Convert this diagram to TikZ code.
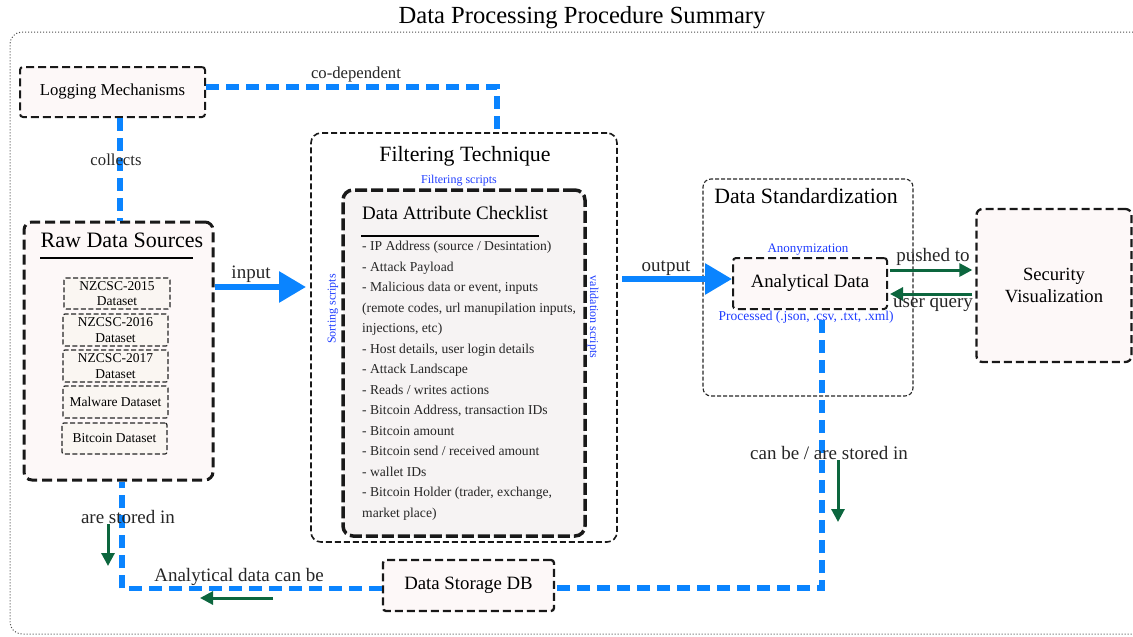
\documentclass[tikz,border=0pt]{standalone}
\usepackage{fontspec}
\setmainfont{Liberation Serif}
\usetikzlibrary{arrows.meta}

\definecolor{flowblue}{RGB}{10,132,255}
\definecolor{notegreen}{RGB}{12,102,62}
\definecolor{scriptblue}{RGB}{30,60,255}
\definecolor{pinkfill}{RGB}{253,248,248}
\definecolor{beigefill}{RGB}{250,246,242}
\definecolor{greyfill}{RGB}{246,243,243}

\newcommand{\fs}[1]{\fontsize{#1}{1.15\dimexpr#1pt\relax}\selectfont}

\tikzset{
  box/.style={draw=black!90, dashed, fill=pinkfill, line width=2pt,
    dash pattern=on 8pt off 4pt, rounded corners=3pt, align=center,
    inner sep=0pt},
  bigbox/.style={draw=black!90, line width=3pt, dash pattern=on 10pt off 5pt,
    rounded corners=8pt, inner sep=0pt},
  groupbox/.style={draw=black!90, line width=1.6pt, dash pattern=on 6pt off 3pt,
    rounded corners=10pt, inner sep=0pt},
  thinbox/.style={draw=black!85, line width=1.1pt, dash pattern=on 4pt off 2pt,
    rounded corners=8pt, inner sep=0pt},
  setbox/.style={draw=black!85, fill=beigefill, line width=1.2pt,
    dash pattern=on 5pt off 2.5pt, rounded corners=2pt, align=center,
    inner sep=0pt, font=\fs{13.5}},
  flowline/.style={draw=flowblue, line width=5.5pt, dash pattern=on 13pt off 7pt},
  bigarrow/.style={draw=flowblue, line width=6pt,
    -{Triangle[length=27pt,width=30pt]}},
  notearrow/.style={draw=notegreen, line width=3pt,
    -{Triangle[length=13pt,width=13pt]}},
  lbl/.style={text=black!85, font=\fs{19}, inner sep=0pt},
  scriptlbl/.style={text=scriptblue, font=\fs{12}, inner sep=0pt},
  heading/.style={font=\fs{21.8}, inner sep=0pt},
}

\begin{document}
\begin{tikzpicture}[x=1pt,y=-1pt]
\useasboundingbox (0,0) rectangle (1133,637);

% overall frame and title
\draw[black!70, line width=1pt, dotted, rounded corners=12pt]
  (1160,32) -- (10,32) -- (10,634) -- (1160,634);
\node[font=\fs{24.6}, inner sep=0pt] (title) at (582,18) {Data Processing Procedure Summary};

% containers
\node[groupbox, minimum width=306pt, minimum height=409pt] (filter) at (464,337.5) {};
\node[heading] (filterttl) at (465,156) {Filtering Technique};
\node[thinbox, minimum width=210pt, minimum height=217pt] (stand) at (808,287.5) {};
\node[heading] (standttl) at (806,196) {Data Standardization};

% raw data sources
\node[bigbox, fill=pinkfill, minimum width=189pt, minimum height=258pt] (raw) at (118.5,351) {};
\node[font=\fs{22}, inner sep=0pt] (rawttl) at (122,240) {Raw Data Sources};
\draw[line width=1.3pt] (40,258) coordinate (rawl) -- (193,258) coordinate (rawr);
\node[setbox, minimum width=106pt, minimum height=31pt, font=\fontsize{13.5}{15.5}\selectfont] (d15) at (117,293.5) {NZCSC-2015\\Dataset};
\node[setbox, minimum width=105pt, minimum height=32pt, font=\fontsize{13.5}{15.5}\selectfont] (d16) at (115.5,330) {NZCSC-2016\\Dataset};
\node[setbox, minimum width=105pt, minimum height=32pt, font=\fontsize{13.5}{15.5}\selectfont] (d17) at (115.5,366) {NZCSC-2017\\Dataset};
\node[setbox, minimum width=105pt, minimum height=32pt] (mal) at (115.5,402) {Malware Dataset};
\node[setbox, minimum width=105pt, minimum height=31pt] (btc) at (114.5,438.5) {Bitcoin Dataset};

% checklist
\node[bigbox, fill=greyfill, line width=3.5pt, dash pattern=on 12pt off 4pt,
      rounded corners=10pt, minimum width=242pt, minimum height=346pt] (check) at (464,363) {};
\node[font=\fs{19}, inner sep=0pt] (checkttl) at (455,213) {Data Attribute Checklist};
\draw[line width=1.3pt] (361,236) coordinate (chkl) -- (539,236) coordinate (chkr);
\node[anchor=north west, align=left, inner sep=0pt, text=black!85,
      font=\fontsize{13.6}{20.5}\selectfont] (items) at (362,241) {%
- IP Address (source / Desintation)\\
- Attack Payload\\
- Malicious data or event, inputs\\
(remote codes, url manupilation inputs,\\
injections, etc)\\
- Host details, user login details\\
- Attack Landscape\\
- Reads / writes actions\\
- Bitcoin Address, transaction IDs\\
- Bitcoin amount\\
- Bitcoin send / received amount\\
- wallet IDs\\
- Bitcoin Holder (trader, exchange,\\
market place)};

% other boxes
\node[box, minimum width=185pt, minimum height=50pt, font=\fs{16.7}] (logging) at (112.5,92) {Logging Mechanisms};
\node[box, minimum width=154pt, minimum height=51pt, font=\fs{18.8}] (anal) at (810,283.5) {Analytical Data};
\node[box, line width=2.3pt, rounded corners=6pt, minimum width=155pt, minimum height=153pt,
      font=\fontsize{18.6}{22}\selectfont] (secvis) at (1054,285.5) {Security\\Visualization};
\node[box, line width=2.3pt, minimum width=171pt, minimum height=51pt, font=\fs{18.8}] (store) at (468.5,585.5) {Data Storage DB};

% blue data-flow lines
\draw[flowline] ([yshift=5pt]logging.east) -| ([xshift=33pt]filter.north);
\draw[flowline] ([xshift=7.5pt]logging.south) -- ([xshift=7.5pt]logging.south |- raw.north);
\draw[flowline] ([xshift=12pt,yshift=-10pt]anal.south) |- ([yshift=-2.5pt]store.east);
\draw[flowline] ([yshift=-3pt]store.west) -| ([xshift=3.5pt]raw.south);

\coordinate (inEnd) at (306,287);
\coordinate (outStart) at (622,279);
\draw[bigarrow] (raw.east |- inEnd) -- (inEnd);
\draw[bigarrow] (outStart) -- (anal.west |- outStart);

% green arrows
\coordinate (pushY) at (0,270);
\coordinate (queryY) at (0,294);
\draw[notearrow] ([xshift=2pt]anal.east |- pushY) -- ([xshift=-3pt]secvis.west |- pushY);
\draw[notearrow] ([xshift=-3pt]secvis.west |- queryY) -- ([xshift=2pt]anal.east |- queryY);
\coordinate (sA1) at (108,524);
\coordinate (sA2) at (108,566);
\draw[notearrow] (sA1) -- (sA2);
\coordinate (sB1) at (273,598);
\coordinate (sB2) at (200,598);
\draw[notearrow] (sB1) -- (sB2);
\coordinate (sC1) at (838,460);
\coordinate (sC2) at (838,522);
\draw[notearrow] (sC1) -- (sC2);

% labels
\node[lbl, font=\fs{16.7}] (codep) at (356,74) {co-dependent};
\node[lbl, font=\fs{16.7}] (collects) at (116,160) {collects};
\node[lbl] (inputlbl) at (251,274) {input};
\node[lbl] (outputlbl) at (666,268) {output};
\node[lbl] (pushlbl) at (933,257) {pushed to};
\node[lbl] (querylbl) at (933,305) {user query};
\node[lbl] (storedlbl) at (128,517) {are stored in};
\node[lbl] (analcan) at (239,577) {Analytical data can be};
\node[lbl] (canbe) at (829,453) {can be / are stored in};

% script annotations
\node[scriptlbl] (filtscr) at (459,181) {Filtering scripts};
\node[scriptlbl, rotate=90] (sortscr) at (333,309) {Sorting scripts};
\node[scriptlbl, rotate=-90] (valscr) at (593,317) {validation scripts};
\node[scriptlbl, font=\fs{13}] (anon) at (808,250) {Anonymization};
\node[scriptlbl, font=\fs{13.5}] (procd) at (806,317) {Processed (.json, .csv, .txt, .xml)};
\end{tikzpicture}
\end{document}
